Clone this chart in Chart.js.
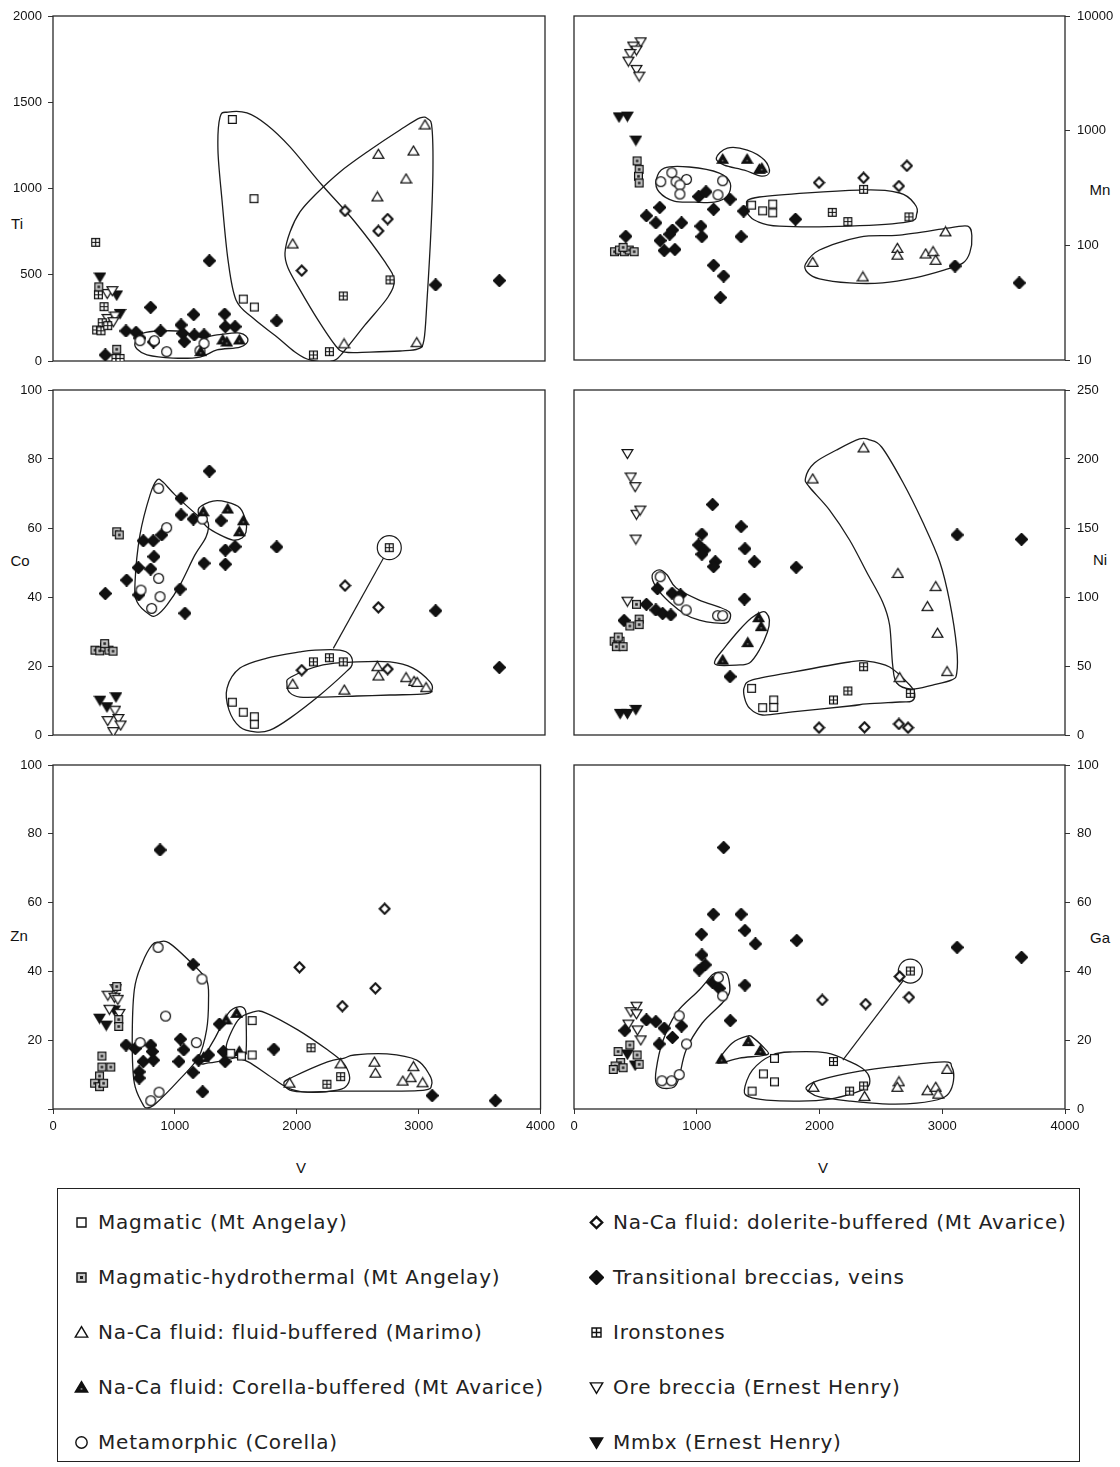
<!DOCTYPE html>
<html>
<head>
<meta charset="utf-8">
<script src="https://cdn.jsdelivr.net/npm/chart.js@4.4.1/dist/chart.umd.min.js"></script>
<style>
  body { margin: 0; background: #fff; }
  #page { position: relative; width: 1120px; height: 1467px; overflow: hidden; background: #fff;
          font-family: "Liberation Sans", Arial, sans-serif; color: #111; }
  canvas.panel { position: absolute; }
  .ttl { position: absolute; font-size: 15px; transform: translate(-50%, -50%); white-space: nowrap; }
  #legend { position: absolute; left: 57px; top: 1188px; width: 1023px; height: 274px;
            border: 1px solid #222; box-sizing: border-box; }
  .item { position: absolute; height: 24px; display: flex; align-items: center;
          font-family: "DejaVu Sans", sans-serif; font-size: 20px; letter-spacing: 0.8px; color: #222; white-space: nowrap; }
  .item canvas { margin-right: 9px; }
</style>
</head>
<body>
<div id="page">
  <div class="ttl" style="left:17px;top:223px">Ti</div>
  <div class="ttl" style="left:20px;top:560px">Co</div>
  <div class="ttl" style="left:19px;top:935px">Zn</div>
  <div class="ttl" style="left:1100px;top:189px">Mn</div>
  <div class="ttl" style="left:1100px;top:559px">Ni</div>
  <div class="ttl" style="left:1100px;top:937px">Ga</div>
  <div class="ttl" style="left:301px;top:1167px">V</div>
  <div class="ttl" style="left:823px;top:1167px">V</div>
  <div id="legend"></div>
</div>
<script>
// ---------- V range shared by every panel ----------
const vTicks = [0, 1000, 2000, 3000, 4000];

// ---------- Ti vs V ----------
const tiMagmatic = [[1458,1400],[1634,941],[1547,359],[1637,313]];
const tiMagHydro = [[372,430],[518,68]];
const tiFluid = [[3024,1368],[2645,1198],[2930,1217],[2870,1055],[2637,951],[1949,678],[2366,99],[2957,106]];
const tiCorella = [[1201,54],[1380,122],[1413,110],[1515,122]];
const tiMetamorphic = [[707,118],[824,118],[924,54],[1195,60],[1228,102]];
const tiDolerite = [[2374,870],[2721,823],[2645,754],[2022,524]];
const tiTransitional = [[425,35],[593,174],[675,166],[707,133],[794,311],[817,110],[875,174],[1041,209],[1054,160],[1068,112],[1144,269],[1149,151],[1228,151],[1271,581],[1396,272],[1401,199],[1480,199],[1819,232],[3111,441],[3629,466]];
const tiIronstones = [[347,688],[369,384],[415,315],[400,222],[355,180],[390,175],[445,205],[512,15],[545,15],[2117,35],[2247,54],[2360,377],[2740,470]];
const tiOreBreccia = [[441,392],[482,408],[445,247],[504,261],[490,228]];
const tiMmbx = [[382,487],[518,383],[545,276]];
const tiEnvMagmatic = [[1358,1414],[1423,1443],[1577,1438],[1740,1368],[1927,1241],[2187,1020],[2455,806],[2699,574],[2772,470],[2724,371],[2537,209],[2374,64],[2276,0],[2089,6],[1967,52],[1821,139],[1626,249],[1488,354],[1423,585],[1374,933],[1341,1223]];
const tiEnvFluid = [[1886,626],[1927,748],[2008,864],[2130,962],[2333,1096],[2577,1223],[2821,1339],[2984,1409],[3049,1403],[3081,1351],[3089,1107],[3073,759],[3041,354],[3016,122],[2967,70],[2821,58],[2577,52],[2374,52],[2293,93],[2154,238],[2008,412],[1911,539]];
const tiEnvMeta = [[667,104],[732,162],[1008,174],[1195,139],[1333,151],[1520,162],[1585,122],[1520,81],[1333,64],[1195,23],[976,17],[764,35],[683,70]];

// ---------- Mn vs V (log) ----------
const mnMagmatic = [[1447,224],[1537,200],[1619,229],[1619,192]];
const mnMagHydro = [[330,88],[370,91],[410,88],[450,91],[490,88],[400,96],[514,545],[531,460],[525,400],[531,350]];
const mnFluid = [[3026,131],[2634,94],[2634,82],[2865,84],[2925,88],[2947,74],[2353,53],[1945,71]];
const mnCorella = [[1211,563],[1410,563],[1510,460],[1530,470]];
const mnMetamorphic = [[707,359],[797,430],[831,359],[917,376],[863,336],[863,280],[1211,366],[1173,276]];
const mnDolerite = [[1996,352],[2359,388],[2647,329],[2712,494]];
const mnTransitional = [[422,120],[699,214],[590,181],[667,157],[876,157],[802,136],[780,125],[702,110],[735,90],[822,92],[1034,147],[1042,119],[1137,206],[1271,252],[1382,199],[1361,119],[1015,266],[1075,293],[1137,67],[1219,54],[1192,35],[1804,169],[3104,66],[3627,47]];
const mnIronstones = [[2104,194],[2231,161],[2359,308],[2729,177]];
const mnOreBreccia = [[544,5960],[482,5470],[509,5050],[457,4720],[443,4045],[509,3425],[531,2990]];
const mnMmbx = [[367,1320],[435,1340],[504,828]];
const mnEnvMeta = [[669,371],[735,472],[939,482],[1184,427],[1273,349],[1249,269],[1143,238],[980,238],[816,243],[694,292]];
const mnEnvCorella = [[1159,577],[1249,705],[1412,678],[1551,555],[1592,436],[1527,402],[1388,453],[1224,501]];
const mnEnvMagmatic = [[1404,220],[1510,264],[2327,303],[2653,286],[2776,229],[2792,188],[2718,160],[2245,147],[1673,147],[1486,163],[1412,191]];
const mnEnvFluid = [[1886,68.7],[2000,91],[2327,118],[2653,123],[3061,142],[3208,147],[3241,121],[3224,86],[3167,70],[3020,61],[2776,52],[2514,47],[2245,47],[2000,51],[1902,58]];

// ---------- Co vs V ----------
const coMagmatic = [[1458,9.5],[1547,6.6],[1637,5.3],[1637,3.1]];
const coMagHydro = [[518,58.9],[539,58.0],[341,24.6],[380,24.4],[420,25.5],[455,24.6],[488,24.3],[420,26.5]];
const coFluid = [[1949,14.7],[2368,13.0],[2637,19.8],[2645,17.1],[2870,16.6],[2935,15.5],[2960,15.2],[3033,13.7]];
const coCorella = [[1222,64.7],[1420,65.5],[1547,62.1],[1515,58.9]];
const coMetamorphic = [[859,71.5],[924,60.1],[859,45.4],[715,42.0],[870,40.1],[802,36.7],[1214,62.6]];
const coDolerite = [[2374,43.3],[2645,37.0],[2721,19.1],[2022,18.8]];
const coTransitional = [[425,41.0],[599,44.9],[694,48.5],[697,40.6],[734,56.3],[815,56.3],[821,51.7],[794,48.1],[884,58.0],[1041,68.6],[1041,63.8],[1141,62.6],[1271,76.5],[1033,42.3],[1073,35.3],[1228,49.8],[1366,62.1],[1401,53.6],[1401,49.5],[1480,54.6],[1819,54.5],[3111,36.0],[3629,19.6]];
const coIronstones = [[2734,54.3],[2117,21.2],[2247,22.4],[2360,21.2]];
const coOreBreccia = [[490,1.0],[445,4.2],[531,4.8],[550,2.9],[504,7.2]];
const coMmbx = [[382,10.1],[512,11.1],[439,8.2]];
const coEnvMeta = [[846,73.9],[894,73.3],[992,69.6],[1171,63.8],[1260,61.7],[1244,57.4],[1154,52.2],[1033,43.5],[927,37.7],[846,34.8],[789,34.8],[683,38.6],[667,44.3],[707,58.0],[789,69.6]];
const coEnvCorella = [[1187,65.8],[1301,67.8],[1415,67.5],[1520,65.8],[1569,61.7],[1569,58.8],[1537,57.1],[1463,56.5],[1358,58.0],[1252,60.3],[1195,62.9]];
const coEnvMagmatic = [[1415,13.6],[1520,19.4],[1740,22.3],[2008,24.1],[2130,24.6],[2333,24.6],[2415,23.2],[2431,20.3],[2374,18.0],[2171,11.6],[1927,4.9],[1764,1.4],[1642,0.9],[1520,2.3],[1431,7.2]];
const coEnvFluid = [[1902,14.8],[1935,16.8],[2195,20.3],[2472,21.2],[2740,21.2],[2927,19.4],[3065,15.4],[3081,13.0],[3024,11.9],[2740,11.6],[2472,11.3],[2195,11.0],[2008,11.0],[1927,12.2]];
const coTie = [[2687,51.3],[2279,25.1]];

// ---------- Ni vs V ----------
const niMagmatic = [[1447,33.8],[1537,19.8],[1627,25.4],[1627,20.0]];
const niMagHydro = [[509,94.7],[531,84],[531,80],[455,79],[327,68],[375,68],[345,64],[400,64],[360,71]];
const niFluid = [[1945,185.5],[2359,208],[2639,117],[2947,107.5],[2879,93],[2961,73.7],[3039,45.9],[2653,41.5]];
const niCorella = [[1504,85],[1524,78.5],[1415,66.9],[1211,54.3]];
const niMetamorphic = [[702,114.7],[853,97.8],[914,90.6],[1170,86.5],[1211,86.5]];
const niDolerite = [[1996,5.3],[2367,5.6],[2647,8.0],[2721,5.3]];
const niTransitional = [[408,83],[590,94.7],[667,90.6],[722,88],[789,87],[680,106],[799,102.7],[868,101.5],[1129,167],[1042,145.6],[1015,137.7],[1061,134],[1042,131],[1151,125.6],[1137,122],[1361,151],[1393,135],[1469,125.6],[1810,121.5],[1388,98.5],[1271,42.3],[3121,145],[3646,141.8]];
const niIronstones = [[2114,25.4],[2231,31.9],[2359,49.5],[2740,30.2]];
const niOreBreccia = [[435,204],[463,187],[498,180],[509,160],[539,163],[504,142],[435,97]];
const niMmbx = [[376,15.7],[435,15.7],[504,18.6]];
const niEnvMeta = [[637,115.9],[694,119.6],[759,115.9],[833,106.5],[1020,97.8],[1184,92.7],[1265,89.1],[1273,84.8],[1241,81.2],[1143,81.2],[1020,83.3],[914,87.0],[776,96.4],[669,107.2]];
const niEnvCorella = [[1527,89.1],[1567,88.4],[1592,83.3],[1576,74.6],[1510,61.6],[1429,52.2],[1322,50.7],[1167,50.7],[1151,54.3],[1224,63.0],[1347,76.1],[1445,84.8]];
const niEnvMagmatic = [[1388,34.8],[1453,39.9],[1780,45.6],[2245,52.9],[2384,53.6],[2571,49.3],[2735,36.2],[2776,29.7],[2751,24.6],[2653,23.9],[2384,22.5],[2245,21.0],[1780,16.7],[1535,14.5],[1429,19.6],[1388,27.5]];
const niEnvFluid = [[1886,186.2],[1959,197.1],[2139,206.5],[2327,214.5],[2408,213.8],[2506,208.7],[2678,183.3],[2841,154.3],[2980,125.4],[3061,96.4],[3118,63.0],[3118,44.9],[3078,39.9],[2922,36.2],[2751,33.3],[2629,37.7],[2596,50.7],[2571,79.7],[2514,96.4],[2384,118.1],[2245,141.3],[2082,163.0],[1918,179.7]];

// ---------- Zn vs V ----------
const znMagmatic = [[1458,16.2],[1547,15.4],[1634,25.7],[1634,15.7]];
const znMagHydro = [[523,35.6],[539,26],[539,24],[401,15.4],[401,12.2],[474,12.2],[382,9.6],[341,7.5],[382,6.5],[415,7.5]];
const znFluid = [[1941,7.5],[2360,13.1],[2637,13.6],[2645,10.4],[2957,12.3],[2935,9.1],[2870,8.1],[3033,7.6]];
const znCorella = [[1420,25.9],[1507,27.8],[1528,16.7],[1235,15.0]];
const znMetamorphic = [[862,47.0],[1222,37.8],[924,27.0],[715,19.3],[1176,19.3],[870,4.9],[802,2.4]];
const znDolerite = [[2022,41.2],[2721,58.2],[2645,35.1],[2374,29.9]];
const znTransitional = [[878,75.3],[1150,42.0],[599,18.6],[675,17.6],[707,10.8],[707,9.0],[740,13.8],[802,18.6],[815,16.7],[824,14.2],[1046,20.3],[1073,17.2],[1033,13.8],[1149,10.6],[1195,14.2],[1228,5.0],[1276,15.7],[1366,24.7],[1398,16.7],[1412,13.8],[1813,17.4],[3111,3.9],[3629,2.4]];
const znIronstones = [[2117,17.8],[2247,7.2],[2360,9.4]];
const znOreBreccia = [[450,33.1],[504,32.5],[532,31.9],[463,29.0],[545,27.8],[515,35.0]];
const znMmbx = [[382,26.4],[437,24.4],[504,28.8]];
const znEnvMeta = [[870,48.5],[951,48.3],[1138,42.4],[1260,37.5],[1276,31.7],[1260,23.0],[1195,15.1],[1033,8.4],[846,1.7],[772,0.3],[732,1.7],[667,7.6],[650,19.2],[667,34.6],[732,42.4],[813,47.7]];
const znEnvCorella = [[1220,13.7],[1333,20.9],[1439,27.9],[1520,29.7],[1577,28.8],[1585,25.0],[1585,17.2],[1569,15.7],[1415,14.2],[1276,13.4]];
const znEnvMagmatic = [[1423,18.6],[1520,25.9],[1642,28.2],[1748,27.9],[2008,23.0],[2252,17.2],[2374,13.7],[2431,9.9],[2415,7.0],[2333,5.5],[2089,4.9],[1927,6.1],[1764,9.9],[1602,13.7],[1455,15.7]];
const znEnvFluid = [[1894,7.6],[1967,9.3],[2252,13.7],[2390,14.8],[2472,15.7],[2740,16.0],[2984,14.2],[3089,9.9],[3106,7.0],[3049,5.5],[2740,5.2],[2333,5.2],[2089,4.9],[1943,5.5]];

// ---------- Ga vs V ----------
const gaMagmatic = [[1633,14.7],[1543,10.2],[1633,7.9],[1451,5.2]];
const gaMagHydro = [[455,18.6],[359,16.7],[380,13.5],[335,12.5],[320,11.5],[514,15.7],[531,13.0],[400,12.0]];
const gaFluid = [[1951,6.3],[2367,3.6],[2647,7.9],[2633,6.3],[2879,5.3],[2947,6.3],[2966,4.3],[3039,11.5]];
const gaCorella = [[1420,19.6],[1518,17.0],[1203,14.5]];
const gaMetamorphic = [[1176,38.2],[1211,32.9],[857,27.1],[917,18.9],[716,8.2],[795,8.2],[857,10.0]];
const gaDolerite = [[2022,31.7],[2376,30.5],[2653,38.5],[2729,32.5]];
const gaTransitional = [[1219,76.0],[1135,56.6],[1361,56.6],[1393,51.9],[1478,48.0],[1815,49.0],[1039,50.8],[1042,44.8],[1020,40.4],[1069,41.9],[1129,36.8],[1184,35.1],[1393,36.0],[1273,25.7],[590,25.9],[667,25.4],[414,22.8],[735,23.5],[802,20.8],[876,24.1],[694,18.9],[3121,47.0],[3646,44.1]];
const gaIronstones = [[2740,40.1],[2114,13.8],[2245,5.2],[2359,6.7]];
const gaOreBreccia = [[509,29.9],[463,28.3],[509,27.7],[443,24.7],[517,23.0],[544,20.1]];
const gaMmbx = [[435,16.0],[498,12.8]];
const gaEnvMeta = [[1184,39.8],[1241,39.5],[1265,36.9],[1265,33.7],[1208,30.8],[1045,25.0],[914,17.2],[857,9.3],[816,6.4],[718,6.1],[669,7.6],[669,11.3],[718,19.2],[833,27.9],[1020,34.6],[1127,39.0]];
const gaEnvCorella = [[1176,14.2],[1290,19.2],[1412,21.2],[1453,20.9],[1551,17.7],[1584,16.0],[1510,15.4],[1347,14.8],[1200,13.4]];
const gaEnvMagmatic = [[1388,5.5],[1453,11.3],[1616,15.7],[1780,16.6],[2057,16.3],[2269,13.4],[2367,11.3],[2408,9.0],[2392,6.4],[2286,4.7],[2082,2.9],[1837,2.3],[1567,2.6],[1429,3.5]];
const gaEnvFluid = [[1894,6.4],[2000,8.4],[2327,11.0],[2653,12.5],[3020,13.7],[3078,12.2],[3094,9.3],[3069,5.5],[3004,3.2],[2792,1.7],[2514,1.5],[2245,2.3],[2000,3.5],[1918,4.9]];
const gaTie = [[2682,37.3],[2190,14.2]];

// ---------- series (legend order: left column, then right column) ----------
const SERIES = [
  { key: 'magmatic', label: 'Magmatic (Mt Angelay)', marker: 'square' },
  { key: 'magHydro', label: 'Magmatic-hydrothermal (Mt Angelay)', marker: 'squareDot' },
  { key: 'fluid', label: 'Na-Ca fluid: fluid-buffered (Marimo)', marker: 'triangle' },
  { key: 'corella', label: 'Na-Ca fluid: Corella-buffered (Mt Avarice)', marker: 'triangleFilled' },
  { key: 'meta', label: 'Metamorphic (Corella)', marker: 'circle' },
  { key: 'dolerite', label: 'Na-Ca fluid: dolerite-buffered (Mt Avarice)', marker: 'diamond' },
  { key: 'trans', label: 'Transitional breccias, veins', marker: 'diamondFilled' },
  { key: 'iron', label: 'Ironstones', marker: 'squareCross' },
  { key: 'ore', label: 'Ore breccia (Ernest Henry)', marker: 'triangleDown' },
  { key: 'mmbx', label: 'Mmbx (Ernest Henry)', marker: 'triangleDownFilled' }
];

// ---------- marker glyphs ----------
function makeMarker(kind, s) {
  const cv = document.createElement('canvas');
  cv.width = cv.height = s;
  const g = cv.getContext('2d');
  const c = s / 2, r = s * 0.36;
  g.strokeStyle = '#111';
  g.lineWidth = Math.max(1.15, s * 0.095);
  g.lineJoin = 'miter';
  const poly = (pts, fill) => {
    g.beginPath();
    pts.forEach(([a, b], i) => (i ? g.lineTo(a, b) : g.moveTo(a, b)));
    g.closePath();
    g.fillStyle = fill; g.fill(); g.stroke();
  };
  const h = s * 0.3;
  const sq = [[c - h, c - h], [c + h, c - h], [c + h, c + h], [c - h, c + h]];
  switch (kind) {
    case 'square': poly(sq, '#fff'); break;
    case 'squareDot':
      poly(sq, '#c8c8c8');
      g.fillStyle = '#222'; g.fillRect(c - s * 0.1, c - s * 0.1, s * 0.2, s * 0.2);
      break;
    case 'squareCross':
      poly(sq, '#fff');
      g.beginPath(); g.moveTo(c, c - h); g.lineTo(c, c + h); g.moveTo(c - h, c); g.lineTo(c + h, c); g.stroke();
      break;
    case 'triangle': poly([[c, c - r * 1.1], [c + r * 1.15, c + r * 0.85], [c - r * 1.15, c + r * 0.85]], '#fff'); break;
    case 'triangleFilled':
      poly([[c, c - r * 1.1], [c + r * 1.15, c + r * 0.85], [c - r * 1.15, c + r * 0.85]], '#111');
      g.fillStyle = '#777'; g.fillRect(c - s * 0.06, c + r * 0.1, s * 0.12, s * 0.12);
      break;
    case 'circle':
      g.beginPath(); g.arc(c, c, r * 1.05, 0, Math.PI * 2); g.fillStyle = '#fff'; g.fill(); g.stroke(); break;
    case 'diamond':
      g.lineWidth = Math.max(1.8, s * 0.16);
      poly([[c, c - r * 1.05], [c + r * 1.05, c], [c, c + r * 1.05], [c - r * 1.05, c]], '#fff');
      break;
    case 'diamondFilled':
      poly([[c, c - r * 1.3], [c + r * 1.3, c], [c, c + r * 1.3], [c - r * 1.3, c]], '#111'); break;
    case 'triangleDown': poly([[c - r * 1.15, c - r * 0.85], [c + r * 1.15, c - r * 0.85], [c, c + r * 1.1]], '#fff'); break;
    case 'triangleDownFilled': poly([[c - r * 1.15, c - r * 0.85], [c + r * 1.15, c - r * 0.85], [c, c + r * 1.1]], '#111'); break;
  }
  return cv;
}
const MARKERS = {};
SERIES.forEach(s => { MARKERS[s.key] = makeMarker(s.marker, 13); });

// ---------- panels ----------
const PANELS = [
  { id: 'ti', left: 0, top: 0, h: 375, side: 'left', log: false, min: 0, max: 2000, step: 500, bottom: false,
    pad: { left: 0, right: 15, top: 16, bottom: 14 },
    series: { magmatic: tiMagmatic, magHydro: tiMagHydro, fluid: tiFluid, corella: tiCorella, meta: tiMetamorphic,
              dolerite: tiDolerite, trans: tiTransitional, iron: tiIronstones, ore: tiOreBreccia, mmbx: tiMmbx },
    loops: [tiEnvMagmatic, tiEnvFluid, tiEnvMeta], ring: null, tie: null },
  { id: 'mn', left: 560, top: 0, h: 375, side: 'right', log: true, min: 10, max: 10000, bottom: false,
    pad: { left: 14, right: 0, top: 16, bottom: 15 },
    series: { magmatic: mnMagmatic, magHydro: mnMagHydro, fluid: mnFluid, corella: mnCorella, meta: mnMetamorphic,
              dolerite: mnDolerite, trans: mnTransitional, iron: mnIronstones, ore: mnOreBreccia, mmbx: mnMmbx },
    loops: [mnEnvMeta, mnEnvCorella, mnEnvMagmatic, mnEnvFluid], ring: null, tie: null },
  { id: 'co', left: 0, top: 375, h: 375, side: 'left', log: false, min: 0, max: 100, step: 20, bottom: false,
    pad: { left: 0, right: 15, top: 15, bottom: 15 },
    series: { magmatic: coMagmatic, magHydro: coMagHydro, fluid: coFluid, corella: coCorella, meta: coMetamorphic,
              dolerite: coDolerite, trans: coTransitional, iron: coIronstones, ore: coOreBreccia, mmbx: coMmbx },
    loops: [coEnvMeta, coEnvCorella, coEnvMagmatic, coEnvFluid], ring: coIronstones[0], tie: coTie },
  { id: 'ni', left: 560, top: 375, h: 375, side: 'right', log: false, min: 0, max: 250, step: 50, bottom: false,
    pad: { left: 14, right: 0, top: 15, bottom: 15 },
    series: { magmatic: niMagmatic, magHydro: niMagHydro, fluid: niFluid, corella: niCorella, meta: niMetamorphic,
              dolerite: niDolerite, trans: niTransitional, iron: niIronstones, ore: niOreBreccia, mmbx: niMmbx },
    loops: [niEnvMeta, niEnvCorella, niEnvMagmatic, niEnvFluid], ring: null, tie: null },
  { id: 'zn', left: 0, top: 750, h: 400, side: 'left', log: false, min: 0, max: 100, step: 20, bottom: true, hideZero: true,
    pad: { left: 0, right: 15, top: 15, bottom: 0 },
    series: { magmatic: znMagmatic, magHydro: znMagHydro, fluid: znFluid, corella: znCorella, meta: znMetamorphic,
              dolerite: znDolerite, trans: znTransitional, iron: znIronstones, ore: znOreBreccia, mmbx: znMmbx },
    loops: [znEnvMeta, znEnvCorella, znEnvMagmatic, znEnvFluid], ring: null, tie: null },
  { id: 'ga', left: 560, top: 750, h: 400, side: 'right', log: false, min: 0, max: 100, step: 20, bottom: true,
    pad: { left: 14, right: 0, top: 15, bottom: 0 },
    series: { magmatic: gaMagmatic, magHydro: gaMagHydro, fluid: gaFluid, corella: gaCorella, meta: gaMetamorphic,
              dolerite: gaDolerite, trans: gaTransitional, iron: gaIronstones, ore: gaOreBreccia, mmbx: gaMmbx },
    loops: [gaEnvMeta, gaEnvCorella, gaEnvMagmatic, gaEnvFluid], ring: gaIronstones[0], tie: gaTie }
];
const PANEL_BY_ID = {};
PANELS.forEach(p => { PANEL_BY_ID[p.id] = p; });

// ---------- plugins: plot frame and smooth closed group outlines ----------
const framePlugin = {
  id: 'frame',
  beforeDatasetsDraw(chart) {
    const { ctx, chartArea: a } = chart;
    ctx.save();
    ctx.strokeStyle = '#2a2a2a';
    ctx.lineWidth = 1.3;
    ctx.strokeRect(a.left, a.top, a.right - a.left, a.bottom - a.top);
    ctx.restore();
  }
};

const envelopePlugin = {
  id: 'envelopes',
  beforeDatasetsDraw(chart) {
    const p = PANEL_BY_ID[chart.canvas.id];
    if (!p) return;
    const { ctx, chartArea: a, scales: { x, y } } = chart;
    ctx.save();
    ctx.beginPath();
    ctx.rect(a.left, a.top, a.right - a.left, a.bottom - a.top);
    ctx.clip();
    ctx.strokeStyle = '#1c1c1c';
    ctx.lineWidth = 1.3;
    p.loops.forEach(loop => {
      const pts = loop.map(([v, w]) => [x.getPixelForValue(v), y.getPixelForValue(w)]);
      const n = pts.length;
      ctx.beginPath();
      ctx.moveTo(pts[0][0], pts[0][1]);
      for (let i = 0; i < n; i++) {
        const p0 = pts[(i - 1 + n) % n], p1 = pts[i], p2 = pts[(i + 1) % n], p3 = pts[(i + 2) % n];
        ctx.bezierCurveTo(
          p1[0] + (p2[0] - p0[0]) / 6, p1[1] + (p2[1] - p0[1]) / 6,
          p2[0] - (p3[0] - p1[0]) / 6, p2[1] - (p3[1] - p1[1]) / 6,
          p2[0], p2[1]);
      }
      ctx.closePath();
      ctx.stroke();
    });
    ctx.restore();
  }
};
Chart.register(framePlugin, envelopePlugin);

Chart.defaults.font.family = '"Liberation Sans", Arial, sans-serif';
Chart.defaults.font.size = 13;
Chart.defaults.color = '#111';

const page = document.getElementById('page');
const toXY = arr => arr.map(([x, y]) => ({ x, y }));

PANELS.forEach(p => {
  const cv = document.createElement('canvas');
  cv.id = p.id;
  cv.className = 'panel';
  cv.width = 560;
  cv.height = p.h;
  cv.style.left = p.left + 'px';
  cv.style.top = p.top + 'px';
  page.appendChild(cv);

  const datasets = SERIES.map(s => ({
    label: s.label,
    data: toXY(p.series[s.key] || []),
    pointStyle: MARKERS[s.key],
    pointRadius: 5,
    pointHoverRadius: 5,
    showLine: false
  }));
  if (p.tie) {
    datasets.push({ label: 'tie', data: toXY(p.tie), showLine: true, pointRadius: 0,
                    borderColor: '#1c1c1c', borderWidth: 1.2, fill: false });
  }
  if (p.ring) {
    datasets.push({ label: 'ring', data: toXY([p.ring]), pointStyle: 'circle', pointRadius: 12,
                    borderColor: '#1c1c1c', borderWidth: 1.2, backgroundColor: 'rgba(0,0,0,0)' });
  }

  const yScale = {
    type: p.log ? 'logarithmic' : 'linear',
    position: p.side,
    min: p.min,
    max: p.max,
    border: { display: false },
    grid: { drawOnChartArea: false, drawTicks: true, tickLength: 5, color: '#333' },
    ticks: {
      padding: p.side === 'left' ? 6 : 7,
      color: '#111',
      callback: v => (p.hideZero && v === 0 ? '' : String(v))
    },
    afterFit: s => { s.width = p.side === 'left' ? 53 : 55; }
  };
  if (p.log) {
    yScale.afterBuildTicks = s => { s.ticks = [10, 100, 1000, 10000].map(value => ({ value })); };
  } else {
    yScale.ticks.stepSize = p.step;
  }

  const xScale = {
    type: 'linear', min: 0, max: 4000, display: p.bottom,
    border: { display: false },
    grid: { drawOnChartArea: false, drawTicks: true, tickLength: 5, color: '#333' },
    afterBuildTicks: s => { s.ticks = vTicks.map(value => ({ value })); },
    ticks: { padding: 5, maxRotation: 0, color: '#111', callback: v => String(v) }
  };
  if (p.bottom) {
    xScale.afterFit = s => { s.height = 41; };
  }

  new Chart(cv, {
    type: 'scatter',
    data: { datasets },
    options: {
      responsive: false,
      animation: false,
      events: [],
      layout: { padding: p.pad },
      plugins: { legend: { display: false }, tooltip: { enabled: false } },
      scales: { x: xScale, y: yScale }
    }
  });
});

// ---------- legend ----------
const legend = document.getElementById('legend');
SERIES.forEach((s, i) => {
  const col = i < 5 ? 0 : 1, row = i % 5;
  const item = document.createElement('div');
  item.className = 'item';
  item.style.left = (col ? 531 : 16) + 'px';
  item.style.top = (33 + row * 55 - 12) + 'px';
  const icon = makeMarker(s.marker, 15);
  item.appendChild(icon);
  const span = document.createElement('span');
  span.textContent = s.label;
  item.appendChild(span);
  legend.appendChild(item);
});
</script>
</body>
</html>
